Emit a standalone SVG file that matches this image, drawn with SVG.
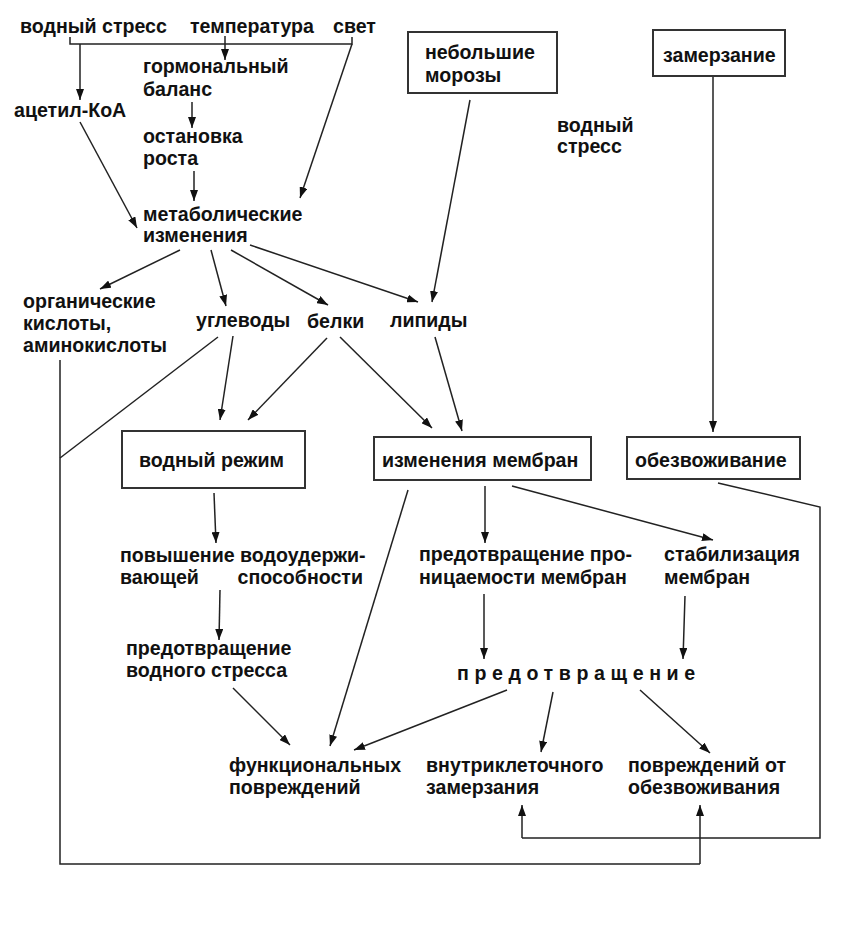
<svg xmlns="http://www.w3.org/2000/svg" width="843" height="936" viewBox="0 0 843 936">
<style>
text{font-family:"Liberation Sans",Arial,sans-serif;font-weight:bold;font-size:19.6px;fill:#111}
.box{fill:#fff;stroke:#333;stroke-width:2}
.c{fill:none;stroke:#222;stroke-width:1.5}
.a{marker-end:url(#ah)}
</style>
<defs>
<marker id="ah" markerUnits="userSpaceOnUse" markerWidth="12" markerHeight="8" refX="11" refY="4" orient="auto">
<path d="M0,0 L11,4 L0,8 z" fill="#111"/>
</marker>
</defs>
<rect width="843" height="936" fill="#fff"/>
<g id="connectors">
<path class="c" d="M70,37 V44 H352 V37"/>
<path class="c a" d="M80,44 V100"/>
<path class="c a" d="M225,36 V60"/>
<path class="c a" d="M352,44 L300,198"/>
<path class="c a" d="M192,102 V128"/>
<path class="c a" d="M194,171 V201"/>
<path class="c a" d="M80,122 L137,228"/>
<path class="c a" d="M180,250 L100,289"/>
<path class="c a" d="M211,250 L226,306"/>
<path class="c a" d="M231,250 L328,305"/>
<path class="c a" d="M250,245 L418,302"/>
<path class="c a" d="M470,100 L432,302"/>
<path class="c" d="M218,337 L60,458"/>
<path class="c" d="M60,360 V864 H700"/>
<path class="c a" d="M700,864 V805"/>
<path class="c a" d="M233,336 L220,420"/>
<path class="c a" d="M327,338 L248,420"/>
<path class="c a" d="M340,337 L432,428"/>
<path class="c a" d="M435,337 L462,431"/>
<path class="c a" d="M713,77 V432"/>
<path class="c" d="M718,483 L820,507 V838 H522"/>
<path class="c a" d="M522,838 V805"/>
<path class="c a" d="M408,490 L330,746"/>
<path class="c a" d="M485,486 V543"/>
<path class="c a" d="M512,486 L713,540"/>
<path class="c a" d="M484,594 V659"/>
<path class="c a" d="M685,596 L683,659"/>
<path class="c a" d="M214,493 L216,543"/>
<path class="c a" d="M220,590 L219,640"/>
<path class="c a" d="M233,688 L290,745"/>
<path class="c a" d="M507,690 L354,750"/>
<path class="c a" d="M553,692 L541,752"/>
<path class="c a" d="M640,690 L710,753"/>
</g>
<g id="n-vodstress"><text x="20" y="33">водный стресс</text></g>
<g id="n-temp"><text x="190" y="33">температура</text></g>
<g id="n-svet"><text x="333" y="33">свет</text></g>
<g id="n-acetyl"><text x="14" y="117">ацетил-КоА</text></g>
<g id="n-gorm"><text x="143" y="73">гормональный</text><text x="143" y="96">баланс</text></g>
<g id="n-ostan"><text x="143" y="143">остановка</text><text x="143" y="165">роста</text></g>
<g id="n-metab"><text x="143" y="221">метаболические</text><text x="143" y="242">изменения</text></g>
<g id="n-moroz"><rect class="box" x="408" y="32" width="149" height="61"/><text x="425" y="59">небольшие</text><text x="425" y="82">морозы</text></g>
<g id="n-vodstress2"><text x="557" y="132">водный</text><text x="557" y="153">стресс</text></g>
<g id="n-zamerz"><rect class="box" x="653" y="30" width="132" height="46"/><text x="663" y="62">замерзание</text></g>
<g id="n-org"><text x="23" y="308">органические</text><text x="23" y="330">кислоты,</text><text x="23" y="352">аминокислоты</text></g>
<g id="n-uglev"><text x="196" y="327">углеводы</text></g>
<g id="n-belki"><text x="307" y="328">белки</text></g>
<g id="n-lipidy"><text x="390" y="327">липиды</text></g>
<g id="n-vodrezh"><rect class="box" x="122" y="431" width="183" height="57"/><text x="139" y="467">водный режим</text></g>
<g id="n-membr"><rect class="box" x="374" y="437" width="217" height="43"/><text x="382" y="467">изменения мембран</text></g>
<g id="n-obezv"><rect class="box" x="627" y="437" width="173" height="42"/><text x="635" y="467">обезвоживание</text></g>
<g id="n-povysh"><text x="120" y="562">повышение водоудержи-</text><text x="120" y="584">вающей</text><text x="363" y="584" text-anchor="end">способности</text></g>
<g id="n-predpron"><text x="419" y="561">предотвращение про-</text><text x="419" y="584">ницаемости мембран</text></g>
<g id="n-stab"><text x="664" y="561">стабилизация</text><text x="664" y="584">мембран</text></g>
<g id="n-predvod"><text x="126" y="655">предотвращение</text><text x="126" y="677">водного стресса</text></g>
<g id="n-pred"><text x="457" y="680" letter-spacing="5.6">предотвращение</text></g>
<g id="n-funk"><text x="229" y="772">функциональных</text><text x="229" y="794">повреждений</text></g>
<g id="n-vnutr"><text x="426" y="772">внутриклеточного</text><text x="426" y="794">замерзания</text></g>
<g id="n-povr"><text x="628" y="772">повреждений от</text><text x="628" y="794">обезвоживания</text></g>
</svg>
